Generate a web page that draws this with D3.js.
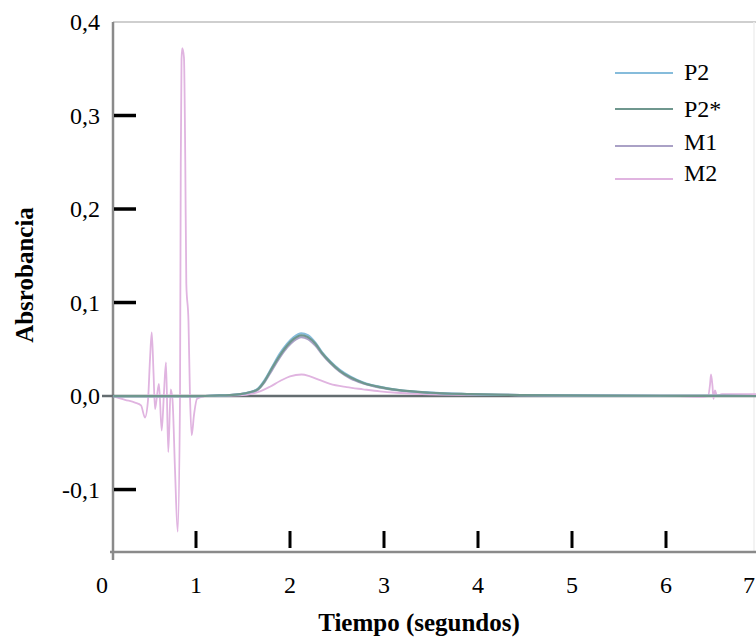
<!DOCTYPE html>
<html>
<head>
<meta charset="utf-8">
<script src="https://cdn.jsdelivr.net/npm/d3@7"></script>
</head>
<body style="margin:0">
<script>
// ---------- data ----------
const seriesNames = ["P2", "P2*", "M1", "M2"];
const xTickValues = [0, 1, 2, 3, 4, 5, 6, 7];
const xTickMarks = [1, 2, 3, 4, 5, 6];
const yTickValues = [-0.1, 0.0, 0.1, 0.2, 0.3, 0.4];
const yTickMarks = [-0.1, 0.1, 0.2, 0.3];

// shared time base for the P2 / P2* / M1 traces (seconds)
const timeP = [0.12, 0.5, 1.0, 1.2, 1.36, 1.47, 1.57, 1.66, 1.73, 1.81, 1.89, 1.97, 2.04, 2.12, 2.19, 2.27, 2.34, 2.43, 2.53, 2.64, 2.78, 2.96, 3.14, 3.49, 3.92, 4.45, 5.3, 6.2, 7.0];
const p2Values = [0, 0, 0, 0.0005, 0.001, 0.002, 0.004, 0.008, 0.017, 0.031, 0.045, 0.056, 0.063, 0.067, 0.065, 0.057, 0.047, 0.037, 0.028, 0.021, 0.0145, 0.0098, 0.0067, 0.0036, 0.002, 0.001, 0.0005, 0.0002, 0];
const p2StarValues = [0, 0, 0, 0.0005, 0.001, 0.002, 0.004, 0.0075, 0.016, 0.030, 0.043, 0.054, 0.061, 0.065, 0.063, 0.056, 0.046, 0.036, 0.027, 0.020, 0.014, 0.0095, 0.0065, 0.0035, 0.002, 0.001, 0.0005, 0.0002, 0];
const m1Values = [0, 0, 0, 0.0005, 0.001, 0.002, 0.0038, 0.007, 0.015, 0.028, 0.041, 0.052, 0.059, 0.063, 0.061, 0.054, 0.045, 0.035, 0.026, 0.019, 0.0135, 0.009, 0.0062, 0.0034, 0.0019, 0.001, 0.0005, 0.0002, 0];

// M2 trace (seconds / absorbance)
const timeM2 = [0.117, 0.245, 0.351, 0.415, 0.457, 0.489, 0.511, 0.529, 0.548, 0.564, 0.585, 0.606, 0.635, 0.660, 0.681, 0.705, 0.731, 0.750, 0.777, 0.805, 0.830, 0.838, 0.846, 0.854, 0.872, 0.886, 0.897, 0.920, 0.936, 0.954, 0.979, 1.011, 1.10, 1.50, 1.574, 1.681, 1.787, 1.894, 2.0, 2.124, 2.213, 2.319, 2.426, 2.603, 2.777, 2.957, 3.135, 3.489, 4.234, 5.30, 6.15, 6.36, 6.447, 6.468, 6.479, 6.495, 6.505, 6.521, 6.543, 6.596, 7.0];
const m2Values = [0, -0.004, -0.007, -0.010, -0.023, -0.005, 0.040, 0.068, 0.025, -0.014, 0.000, 0.013, -0.037, 0.005, 0.036, -0.060, 0.007, -0.004, -0.080, -0.145, 0.0, 0.25, 0.36, 0.372, 0.362, 0.25, 0.12, 0.08, 0.0, -0.042, -0.020, -0.003, 0.0, 0.001, 0.002, 0.005, 0.010, 0.016, 0.021, 0.023, 0.021, 0.017, 0.013, 0.0095, 0.0072, 0.005, 0.0035, 0.0018, 0.001, 0.0005, 0.0, -0.001, 0.0, 0.012, 0.023, 0.010, -0.003, 0.006, 0.0, 0.002, 0.002];

// ---------- layout ----------
const W = 756, H = 638;
const fontName = "Liberation Serif";
const axisLeftX = 113;      // position of the vertical axis line
const axisBottomY = 552;    // position of the horizontal axis line
const colors = { "P2": "#86bcdb", "P2*": "#6f978e", "M1": "#aaa1c6", "M2": "#e0b4e0" };
const legendLineY = [73, 109, 146, 179];
const legendTextY = [80, 117, 150, 181];

const svg = d3.select("body").append("svg").attr("width", W).attr("height", H).style("display", "block")
  .attr("font-family", fontName);
svg.append("rect").attr("width", W).attr("height", H).attr("fill", "#fff");

const x = d3.scaleLinear().domain([0, 7]).range([102, 760]);
const y = d3.scaleLinear().domain([-0.1668, 0.4]).range([axisBottomY, 22]);

function addText(sel) {
  return sel.attr("fill", "#000")
    .attr("font-family", fontName)
    .style("font-family", `"${fontName}", "Times New Roman", Tinos`, "important");
}

// faint frame (top + right)
svg.append("line").attr("x1", axisLeftX).attr("x2", W).attr("y1", y(0.4)).attr("y2", y(0.4))
  .attr("stroke", "#cfcfcf").attr("stroke-width", 2);
svg.append("line").attr("x1", 754).attr("x2", 754).attr("y1", y(0.4)).attr("y2", axisBottomY)
  .attr("stroke", "#efefef").attr("stroke-width", 1.5);

// axis lines
svg.append("line").attr("x1", axisLeftX).attr("x2", axisLeftX).attr("y1", y(0.4)).attr("y2", axisBottomY + 8)
  .attr("stroke", "#8a8a8a").attr("stroke-width", 2.5);
svg.append("line").attr("x1", axisLeftX - 3).attr("x2", W).attr("y1", axisBottomY).attr("y2", axisBottomY)
  .attr("stroke", "#8a8a8a").attr("stroke-width", 2.5);

// zero line
svg.append("line").attr("x1", x(0)).attr("x2", W).attr("y1", y(0)).attr("y2", y(0))
  .attr("stroke", "#646d70").attr("stroke-width", 2.5);

// y tick marks and labels
svg.selectAll(".ytm").data(yTickMarks).enter().append("line")
  .attr("x1", axisLeftX + 1).attr("x2", axisLeftX + 23)
  .attr("y1", d => y(d)).attr("y2", d => y(d))
  .attr("stroke", "#000").attr("stroke-width", 3.5);
const fmt = d => (d < 0 ? "-" : "") + Math.abs(d).toFixed(1).replace(".", ",");
addText(svg.selectAll(".ytl").data(yTickValues).enter().append("text"))
  .attr("x", 100).attr("y", d => y(d) + 8)
  .attr("text-anchor", "end").attr("font-size", 24)
  .text(fmt);

// x tick marks and labels
svg.selectAll(".xtm").data(xTickMarks).enter().append("line")
  .attr("x1", d => x(d)).attr("x2", d => x(d))
  .attr("y1", axisBottomY - 21).attr("y2", axisBottomY - 4)
  .attr("stroke", "#000").attr("stroke-width", 3);
addText(svg.selectAll(".xtl").data(xTickValues).enter().append("text"))
  .attr("x", d => Math.min(x(d), W - 7)).attr("y", 593)
  .attr("text-anchor", "middle").attr("font-size", 24)
  .text(d => d);

// axis titles
addText(svg.append("text")).attr("x", 419).attr("y", 631).attr("text-anchor", "middle")
  .attr("font-size", 25).attr("font-weight", "bold").text("Tiempo (segundos)");
addText(svg.append("text")).attr("transform", "translate(33,275) rotate(-90)").attr("text-anchor", "middle")
  .attr("font-size", 25).attr("font-weight", "bold").text("Absrobancia");

// series
const series = [
  { name: "M2", t: timeM2, v: m2Values, w: 1.8 },
  { name: "M1", t: timeP, v: m1Values, w: 2.2 },
  { name: "P2", t: timeP, v: p2Values, w: 2.2 },
  { name: "P2*", t: timeP, v: p2StarValues, w: 2.2 }
];
const line = d3.line().x(d => x(d[0])).y(d => y(d[1])).curve(d3.curveMonotoneX);
svg.selectAll(".series").data(series).enter().append("path")
  .attr("d", s => line(s.t.map((t, i) => [t, s.v[i]])))
  .attr("fill", "none")
  .attr("stroke", s => colors[s.name])
  .attr("stroke-width", s => s.w)
  .attr("stroke-linejoin", "round");

// legend
const lg = svg.append("g");
seriesNames.forEach((n, i) => {
  lg.append("line").attr("x1", 615).attr("x2", 673).attr("y1", legendLineY[i]).attr("y2", legendLineY[i])
    .attr("stroke", colors[n]).attr("stroke-width", 2);
  addText(lg.append("text")).attr("x", 684).attr("y", legendTextY[i]).attr("font-size", 24).text(n);
});
</script>
</body>
</html>
